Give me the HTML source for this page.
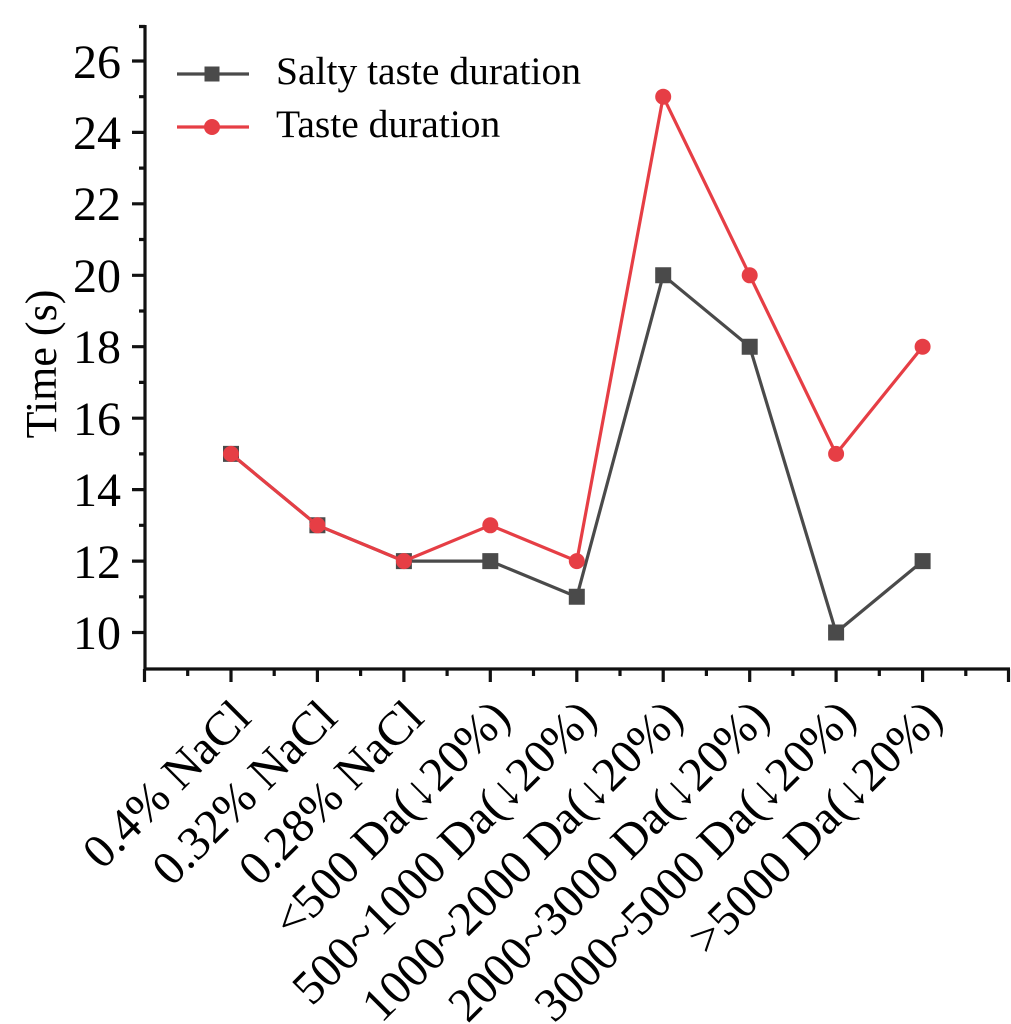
<!DOCTYPE html>
<html><head><meta charset="utf-8"><style>
html,body{margin:0;padding:0;background:#fff;}
svg{display:block;}
text{font-family:"Liberation Serif","Times New Roman",serif;fill:#000;}
</style></head><body>
<svg width="1011" height="1024" viewBox="0 0 1011 1024" xmlns="http://www.w3.org/2000/svg">
<rect width="1011" height="1024" fill="#ffffff"/>
<path fill="none" stroke="#111" stroke-width="3.2" d="M145 25V670 M143.5 669H1010
M132 632.5H145 M132 561.1H145 M132 489.6H145 M132 418.2H145 M132 346.7H145 M132 275.3H145 M132 203.8H145 M132 132.4H145 M132 61H145
M139 596.8H145 M139 525.3H145 M139 453.9H145 M139 382.4H145 M139 311H145 M139 239.5H145 M139 168.1H145 M139 96.7H145 M139 26.5H145
M144.5 669V682 M231 669V682 M317.4 669V682 M403.9 669V682 M490.3 669V682 M576.8 669V682 M663.2 669V682 M749.7 669V682 M836.1 669V682 M922.6 669V682 M1008.5 669V682
M187.7 669V676 M274.2 669V676 M360.6 669V676 M447.1 669V676 M533.5 669V676 M620 669V676 M706.4 669V676 M792.9 669V676 M879.3 669V676 M965.8 669V676"/>
<g font-size="48" text-anchor="end">
<text x="121" y="649">10</text>
<text x="121" y="578">12</text>
<text x="121" y="506">14</text>
<text x="121" y="435">16</text>
<text x="121" y="363">18</text>
<text x="121" y="292">20</text>
<text x="121" y="220">22</text>
<text x="121" y="149">24</text>
<text x="121" y="78">26</text>
</g>
<text x="56" y="364" font-size="44" text-anchor="middle" transform="rotate(-90 56 364)">Time (s)</text>
<g font-size="48" text-anchor="end">
<text x="253" y="720" transform="rotate(-45 253 720)">0.4% NaCl</text>
<text x="339.4" y="720" transform="rotate(-45 339.4 720)">0.32% NaCl</text>
<text x="425.9" y="720" transform="rotate(-45 425.9 720)">0.28% NaCl</text>
<text x="512.3" y="720" transform="rotate(-45 512.3 720)">&lt;500 Da(↓20%)</text>
<text x="598.8" y="720" transform="rotate(-45 598.8 720)">500~1000 Da(↓20%)</text>
<text x="685.2" y="720" transform="rotate(-45 685.2 720)">1000~2000 Da(↓20%)</text>
<text x="771.7" y="720" transform="rotate(-45 771.7 720)">2000~3000 Da(↓20%)</text>
<text x="858.1" y="720" transform="rotate(-45 858.1 720)">3000~5000 Da(↓20%)</text>
<text x="944.6" y="720" transform="rotate(-45 944.6 720)">&gt;5000 Da(↓20%)</text>
</g>
<polyline fill="none" stroke="#4a4a4a" stroke-width="3.2" points="231,453.9 317.4,525.3 403.9,561.1 490.3,561.1 576.8,596.8 663.2,275.3 749.7,346.7 836.1,632.5 922.6,561.1"/>
<path fill="#4a4a4a" d="M223 445.9h16v16h-16z M309.4 517.3h16v16h-16z M395.9 553.1h16v16h-16z M482.3 553.1h16v16h-16z M568.8 588.8h16v16h-16z M655.2 267.3h16v16h-16z M741.7 338.7h16v16h-16z M828.1 624.5h16v16h-16z M914.6 553.1h16v16h-16z"/>
<polyline fill="none" stroke="#e63e45" stroke-width="3.2" points="231,453.9 317.4,525.3 403.9,561.1 490.3,525.3 576.8,561.1 663.2,96.7 749.7,275.3 836.1,453.9 922.6,346.7"/>
<g fill="#e63e45">
<circle cx="231" cy="453.9" r="8"/>
<circle cx="317.4" cy="525.3" r="8"/>
<circle cx="403.9" cy="561.1" r="8"/>
<circle cx="490.3" cy="525.3" r="8"/>
<circle cx="576.8" cy="561.1" r="8"/>
<circle cx="663.2" cy="96.7" r="8"/>
<circle cx="749.7" cy="275.3" r="8"/>
<circle cx="836.1" cy="453.9" r="8"/>
<circle cx="922.6" cy="346.7" r="8"/>
</g>
<path stroke="#4a4a4a" stroke-width="3.2" d="M177 74H249"/>
<rect x="204.5" y="66.5" width="15" height="15" fill="#4a4a4a"/>
<path stroke="#e63e45" stroke-width="3.2" d="M177 127H249"/>
<circle cx="212" cy="127" r="8" fill="#e63e45"/>
<text x="276" y="84" font-size="39.5">Salty taste duration</text>
<text x="276" y="137" font-size="39.5">Taste duration</text>
</svg>
</body></html>
